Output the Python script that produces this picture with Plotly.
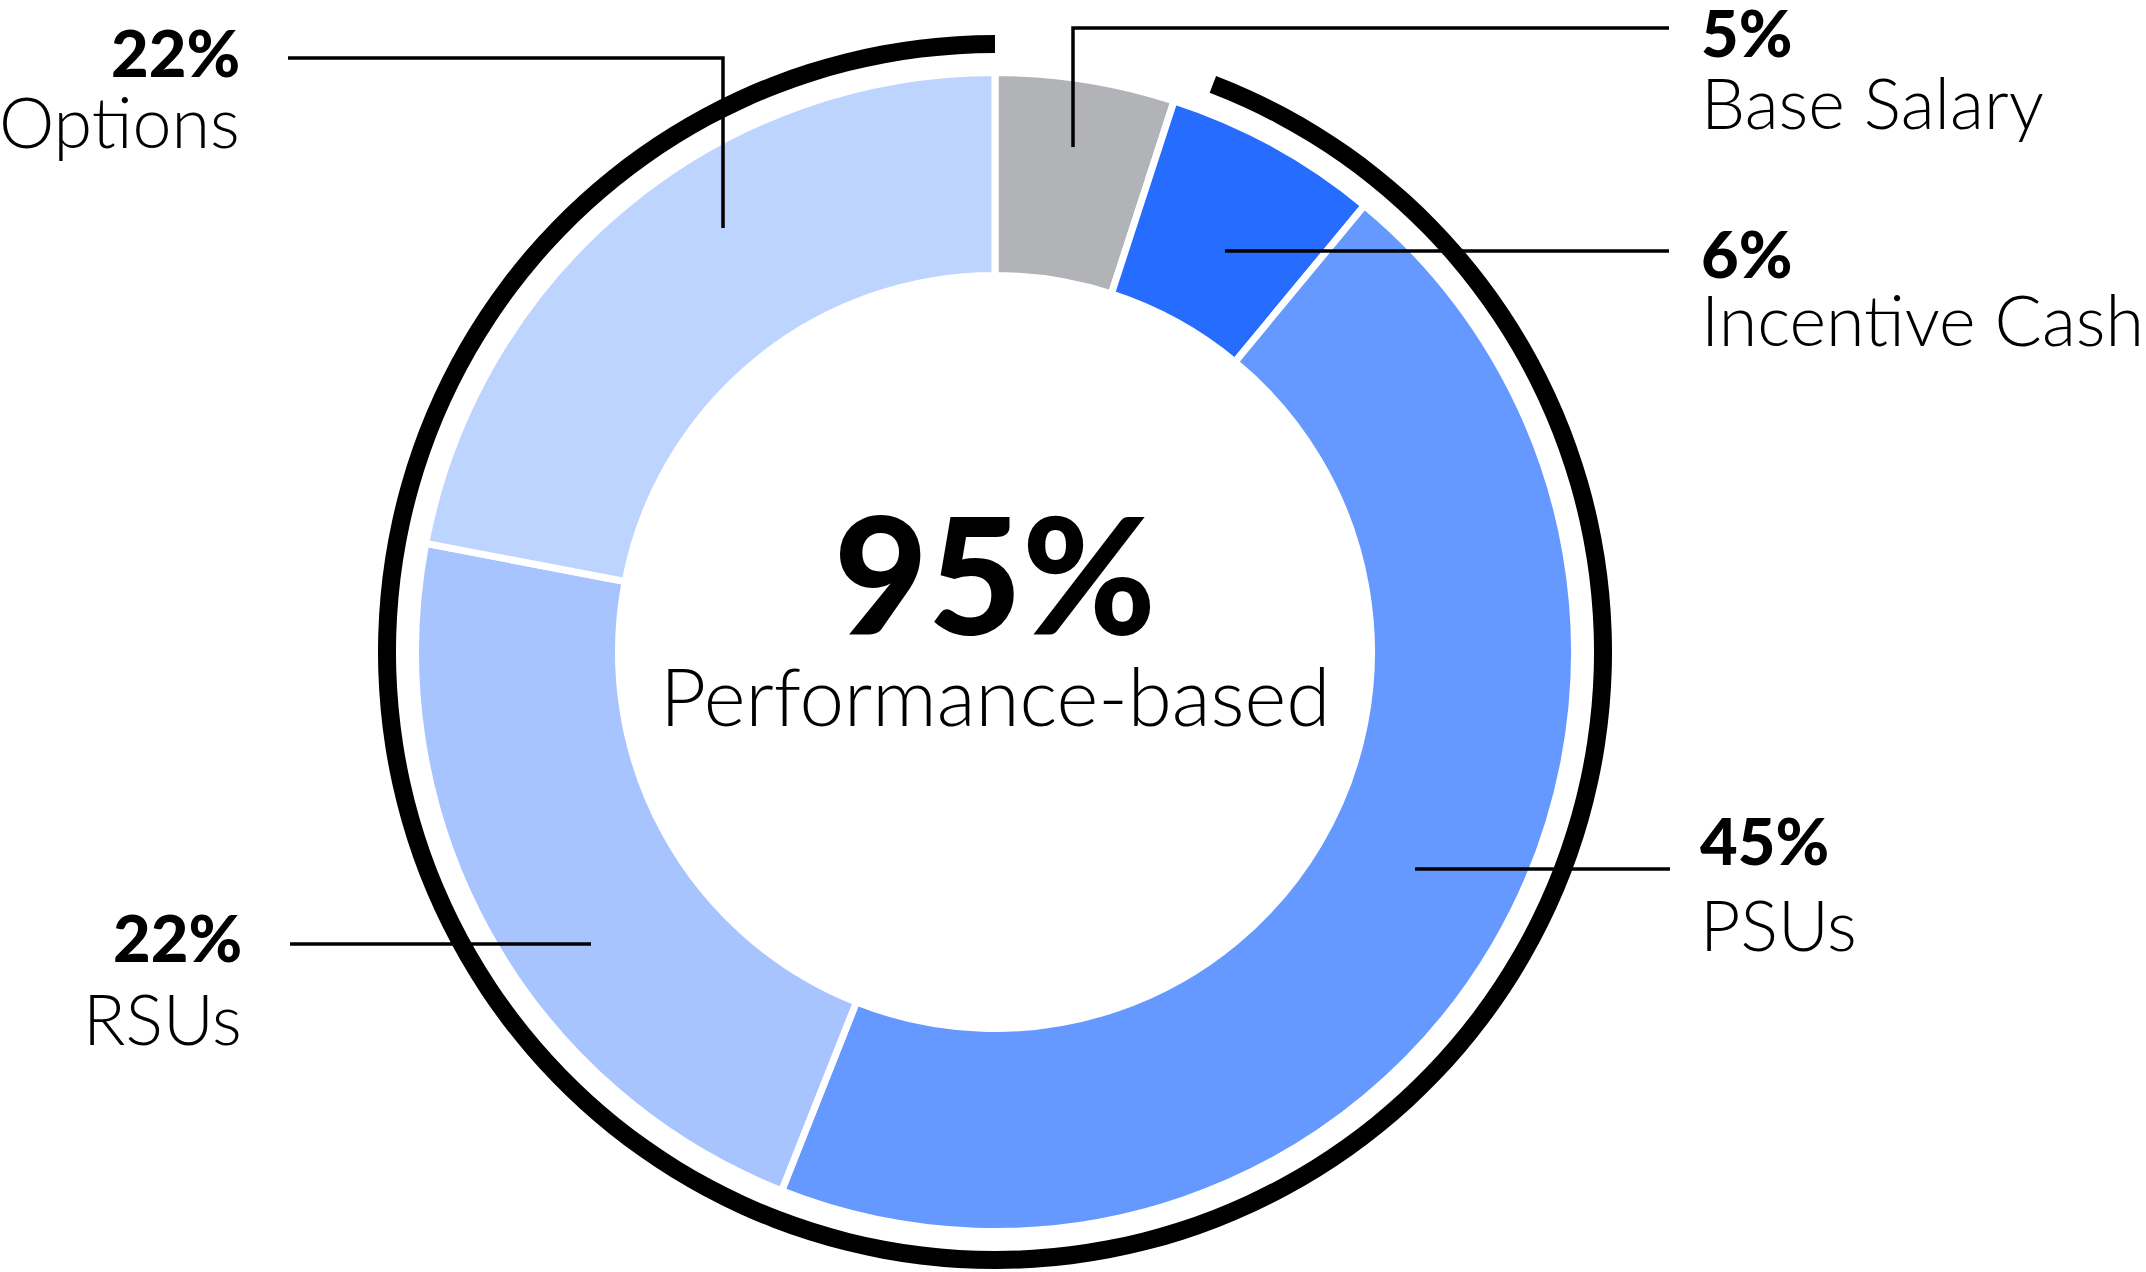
import plotly.graph_objects as go

# ---------------- data ----------------
categories = ["Base Salary", "Incentive Cash", "PSUs", "RSUs", "Options"]
shares = [5, 6, 45, 22, 22]
slice_colors = ["#B2B3B7", "#266DFF", "#6699FF", "#A8C4FF", "#BDD4FF"]
performance_share = 95
center_caption = "Performance-based"

# ---------------- layout / style ----------------
W, H = 2146, 1272
CX, CY = 995, 652            # donut centre (px)
R_OUT, R_IN = 576, 380       # visible donut radii (px)
SEP = 7                      # white separator width (px)
RING_OUT, RING_IN = 617, 599 # black ring radii (px)
RING_GAP_DEG = 3             # small gap before the ring starts

FONT = "Lato"
PCT_SIZE = 65
NAME_SIZE = 70
BIG_SIZE = 162
CAPTION_SIZE = 80


def fx(px):
    return px / W


def fy(py):
    return 1 - py / H


def domain_for(radius):
    return dict(x=[fx(CX - radius), fx(CX + radius)],
                y=[fy(CY + radius), fy(CY - radius)])


r_dom = R_OUT + SEP / 2
hole = (R_IN - SEP / 2) / r_dom

fig = go.Figure()

# main donut
fig.add_trace(go.Pie(
    labels=categories, values=shares, sort=False, direction="clockwise",
    rotation=0, hole=hole, domain=domain_for(r_dom),
    marker=dict(colors=slice_colors, line=dict(color="white", width=SEP)),
    textinfo="none", hoverinfo="label+percent", showlegend=False,
))

# black ring showing the performance-based share
non_perf = 100 - performance_share
ring_vals = [non_perf * 3.6 + RING_GAP_DEG, performance_share * 3.6 - RING_GAP_DEG]
fig.add_trace(go.Pie(
    labels=["Fixed", "Performance-based"], values=ring_vals, sort=False,
    direction="clockwise", rotation=0, hole=RING_IN / RING_OUT,
    domain=domain_for(RING_OUT),
    marker=dict(colors=["rgba(0,0,0,0)", "#000000"], line=dict(width=0)),
    textinfo="none", hoverinfo="skip", showlegend=False,
))

# label placement (px): side, x of text edge, pct cap-centre y, name cap-centre y, leader path
label_layout = {
    "Options":        ("right", 241, 54, 123, [(288, 58), (723, 58), (723, 228)]),
    "Base Salary":    ("left", 1700, 34, 104, [(1669, 28), (1073, 28), (1073, 147)]),
    "Incentive Cash": ("left", 1700, 255, 321, [(1225, 251), (1669, 251)]),
    "PSUs":           ("left", 1699, 842, 926, [(1415, 869), (1670, 869)]),
    "RSUs":           ("right", 243, 939, 1020, [(290, 944), (591, 944)]),
}

annotations = []
shapes = []


def mid_offset(size):
    # annotation box middle sits slightly above the cap centre
    return -0.03 * size


for cat, val in zip(categories, shares):
    side, tx, pct_y, name_y, path = label_layout[cat]
    annotations.append(dict(
        x=fx(tx), y=fy(pct_y + mid_offset(PCT_SIZE)), xref="paper", yref="paper",
        text=f"{val}%", showarrow=False, xanchor=side, yanchor="middle",
        borderpad=0, font=dict(family=FONT, size=PCT_SIZE, color="black", weight=900),
    ))
    annotations.append(dict(
        x=fx(tx), y=fy(name_y + mid_offset(NAME_SIZE)), xref="paper", yref="paper",
        text=cat, showarrow=False, xanchor=side, yanchor="middle",
        borderpad=0, font=dict(family=FONT, size=NAME_SIZE, color="black", weight=300),
    ))
    d = "M " + " L ".join(f"{fx(px)},{fy(py)}" for px, py in path)
    shapes.append(dict(type="path", path=d, xref="paper", yref="paper",
                       line=dict(color="black", width=3.5), layer="above"))

# centre text
annotations.append(dict(
    x=fx(CX), y=fy(577 + mid_offset(BIG_SIZE)), xref="paper", yref="paper",
    text=f"{performance_share}%", showarrow=False, xanchor="center", yanchor="middle",
    borderpad=0, font=dict(family=FONT, size=BIG_SIZE, color="black", weight=900),
))
annotations.append(dict(
    x=fx(CX), y=fy(697 + mid_offset(CAPTION_SIZE)), xref="paper", yref="paper",
    text=center_caption, showarrow=False, xanchor="center", yanchor="middle",
    borderpad=0, font=dict(family=FONT, size=CAPTION_SIZE, color="black", weight=300),
))

fig.update_layout(
    width=W, height=H, margin=dict(l=0, r=0, t=0, b=0),
    paper_bgcolor="white", plot_bgcolor="white",
    annotations=annotations, shapes=shapes, showlegend=False,
)

fig.write_html(
    "out.html",
    config={"displayModeBar": False},
    post_script="document.body.style.margin='0px';document.body.style.overflow='hidden';",
)
